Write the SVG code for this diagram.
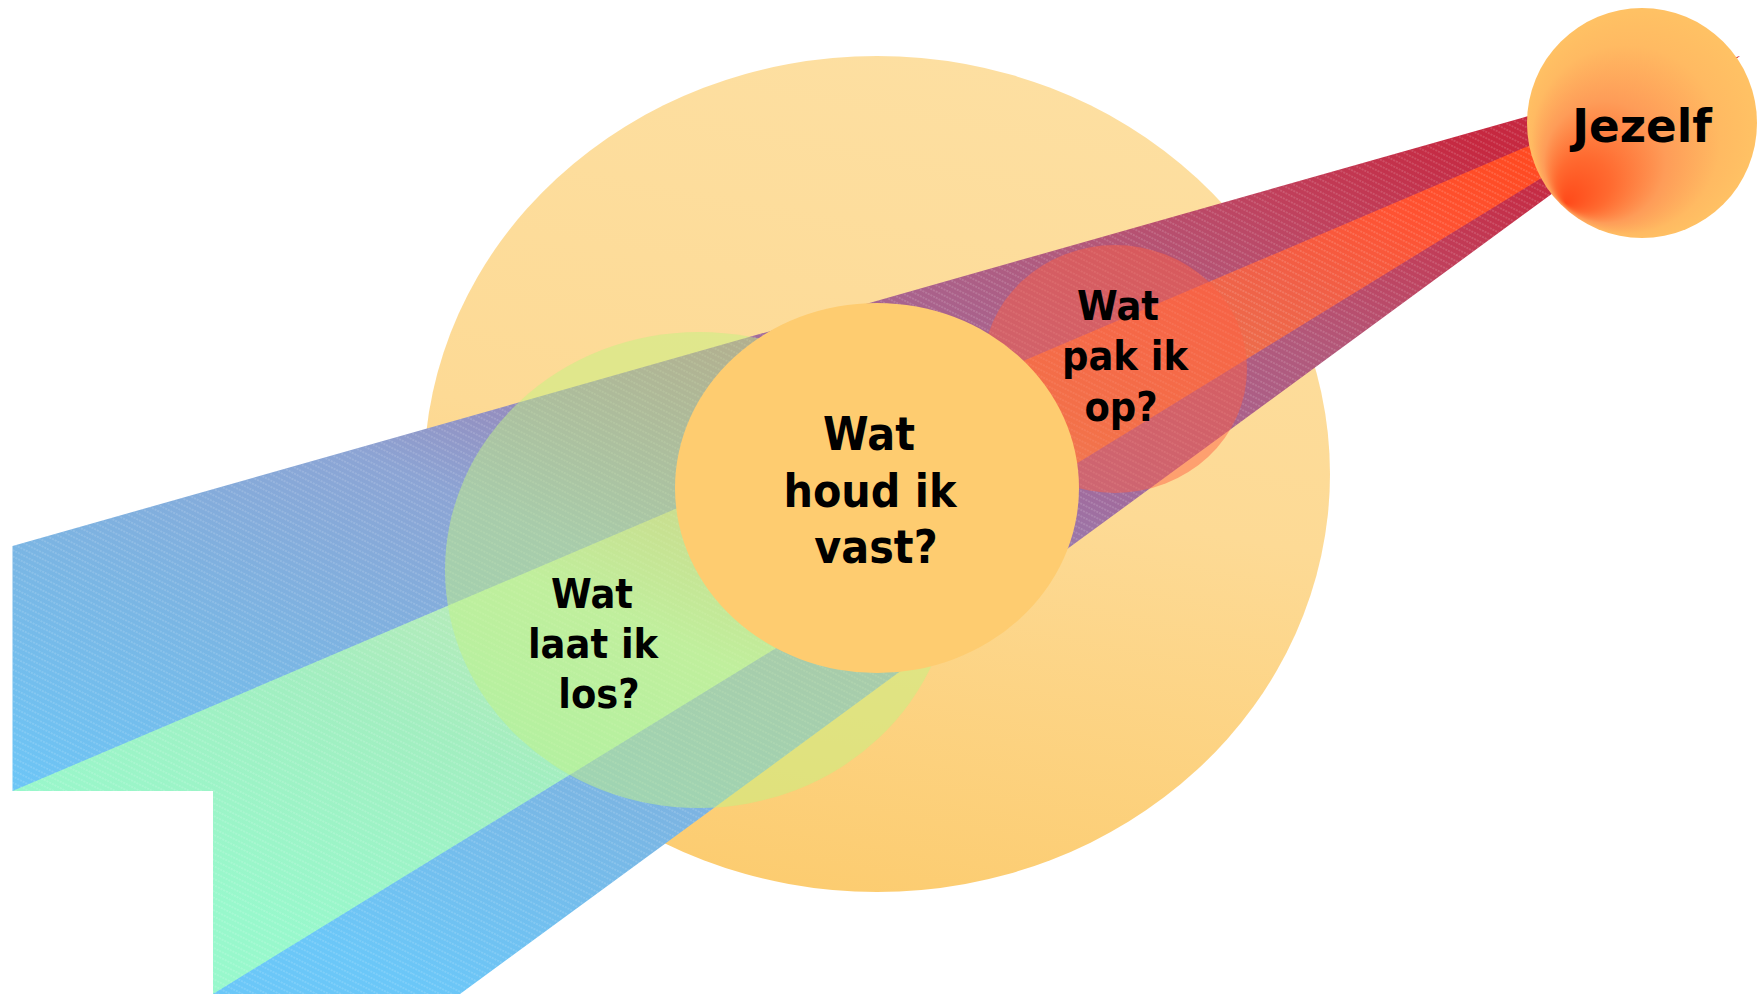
<svg xmlns="http://www.w3.org/2000/svg" width="1758" height="994" viewBox="0 0 1758 994">
  <style>
    .lbl { font-family: "DejaVu Sans", "Liberation Sans", sans-serif; font-weight: bold; fill: #000000; text-anchor: middle; }
    .big { font-size: 46.5px; }
    .mid { font-size: 41.5px; }
    .hatch { fill: url(#hatch); }
  </style>
  <defs>
    <linearGradient id="gContext" gradientUnits="userSpaceOnUse" x1="950" y1="56" x2="800" y2="891">
      <stop offset="0" stop-color="#FDDFA1"/>
      <stop offset="0.5" stop-color="#FDDA95"/>
      <stop offset="1" stop-color="#FCCC70"/>
    </linearGradient>
    <linearGradient id="gOuter" gradientUnits="userSpaceOnUse" x1="650" y1="1084" x2="1119" y2="-10">
      <stop offset="0" stop-color="#6BC7F8"/>
      <stop offset="0.2" stop-color="#7AB6E4"/>
      <stop offset="0.39" stop-color="#8CA4D4"/>
      <stop offset="0.6" stop-color="#A06C9E"/>
      <stop offset="0.79" stop-color="#B2587A"/>
      <stop offset="0.89" stop-color="#C0405C"/>
      <stop offset="1" stop-color="#C62840"/>
    </linearGradient>
    <linearGradient id="gInner" gradientUnits="userSpaceOnUse" x1="650" y1="1084" x2="1119" y2="-10">
      <stop offset="0" stop-color="#98F8CC"/>
      <stop offset="0.2" stop-color="#A2EEC0"/>
      <stop offset="0.35" stop-color="#BCEAB8"/>
      <stop offset="0.5" stop-color="#D8B890"/>
      <stop offset="0.65" stop-color="#E88050"/>
      <stop offset="0.83" stop-color="#F06048"/>
      <stop offset="0.92" stop-color="#FF5232"/>
      <stop offset="1" stop-color="#FF4A22"/>
    </linearGradient>
    <radialGradient id="gSelf" gradientUnits="userSpaceOnUse" cx="1652" cy="112" r="135" fx="1566" fy="203">
      <stop offset="0" stop-color="#FF4A1A"/>
      <stop offset="0.2" stop-color="#FF6A30"/>
      <stop offset="0.45" stop-color="#FE9C58"/>
      <stop offset="0.7" stop-color="#FFBA62"/>
      <stop offset="1" stop-color="#FFC866"/>
    </radialGradient>
    <pattern id="hatch" patternUnits="userSpaceOnUse" width="6" height="5.6" patternTransform="rotate(27)">
      <line x1="0" y1="2.8" x2="6" y2="2.8" stroke="#FFFFFF" stroke-opacity="0.3" stroke-width="0.9" stroke-dasharray="2 1"/>
    </pattern>
  </defs>

  <rect x="0" y="0" width="1758" height="994" fill="#FFFFFF"/>

  <g id="node-context">
    <ellipse cx="877" cy="474" rx="453" ry="418" fill="url(#gContext)"/>
  </g>

  <g id="connectors">
    <polygon id="beam-outer" points="1740,56 12.5,546 12.5,791 213,791 213,994 460,994" fill="url(#gOuter)"/>
    <polygon points="1740,56 12.5,546 12.5,791 213,791 213,994 460,994" class="hatch"/>
    <polygon id="beam-inner" points="1740,56 12.5,791 213,791 213,994" fill="url(#gInner)"/>
    <polygon points="1740,56 12.5,791 213,791 213,994" class="hatch"/>
  </g>

  <g id="node-loslaten">
    <ellipse cx="699" cy="570" rx="254" ry="238" fill="#C3F382" fill-opacity="0.5"/>
    <text class="lbl mid" transform="translate(592,607.7) scale(0.89,1)">Wat</text>
    <text class="lbl mid" transform="translate(593,658.3) scale(0.89,1)">laat ik</text>
    <text class="lbl mid" transform="translate(599,708.3) scale(0.89,1)">los?</text>
  </g>

  <g id="node-oppakken">
    <ellipse cx="1115" cy="369" rx="132" ry="124" fill="#FF6043" fill-opacity="0.48"/>
    <text class="lbl mid" transform="translate(1118,320) scale(0.89,1)">Wat</text>
    <text class="lbl mid" transform="translate(1125,370) scale(0.89,1)">pak ik</text>
    <text class="lbl mid" transform="translate(1121,420.5) scale(0.89,1)">op?</text>
  </g>

  <g id="node-vasthouden">
    <ellipse cx="877" cy="488" rx="202" ry="185" fill="#FECC70"/>
    <text class="lbl big" transform="translate(869,450) scale(0.89,1)">Wat</text>
    <text class="lbl big" transform="translate(870,506.7) scale(0.89,1)">houd ik</text>
    <text class="lbl big" transform="translate(876,563.3) scale(0.89,1)">vast?</text>
  </g>

  <g id="node-jezelf">
    <circle cx="1642" cy="123" r="115" fill="url(#gSelf)"/>
    <text class="lbl" font-size="45.7" transform="translate(1642,142) scale(0.99,1)">Jezelf</text>
  </g>
</svg>
